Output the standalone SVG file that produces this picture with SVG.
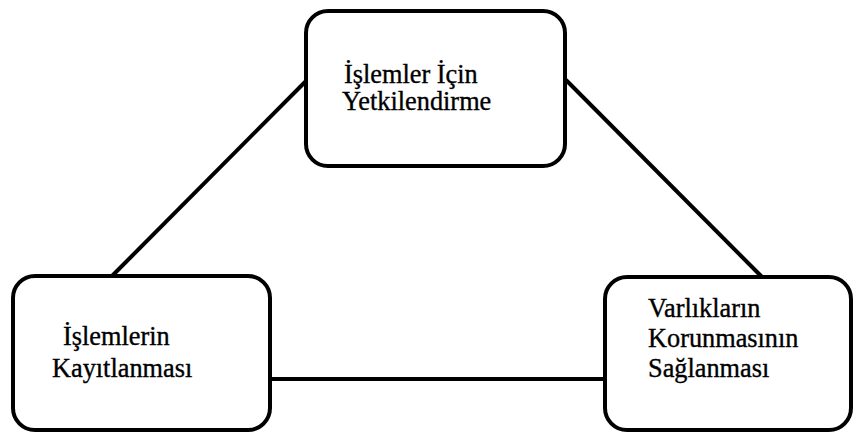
<svg xmlns="http://www.w3.org/2000/svg" width="853" height="434" viewBox="0 0 853 434">
<style>
.box{fill:#fff;stroke:#000;stroke-width:4}
.ln{stroke:#000;stroke-width:4;fill:none}
.t{font-family:'Liberation Serif','DejaVu Serif',serif;font-size:26.3px;fill:#000;stroke:#000;stroke-width:0.35}
</style>
<rect width="853" height="434" fill="#fff"/>
<g id="connectors">
<line class="ln" x1="307" y1="80" x2="112" y2="276"/>
<line class="ln" x1="566" y1="80" x2="762" y2="277"/>
<line class="ln" x1="270" y1="379" x2="605" y2="379"/>
</g>
<g id="n1">
<rect class="box" x="306" y="11" width="259" height="155" rx="22"/>
<text class="t" x="344" y="83">İşlemler İçin</text>
<text class="t" x="342" y="110">Yetkilendirme</text>
</g>
<g id="n2">
<rect class="box" x="13" y="276" width="257" height="154" rx="22"/>
<text class="t" x="63" y="345">İşlemlerin</text>
<text class="t" x="52" y="377">Kayıtlanması</text>
</g>
<g id="n3">
<rect class="box" x="605" y="277" width="246" height="153" rx="22"/>
<text class="t" x="648" y="317">Varlıkların</text>
<text class="t" x="648" y="347">Korunmasının</text>
<text class="t" x="648" y="377">Sağlanması</text>
</g>
</svg>
